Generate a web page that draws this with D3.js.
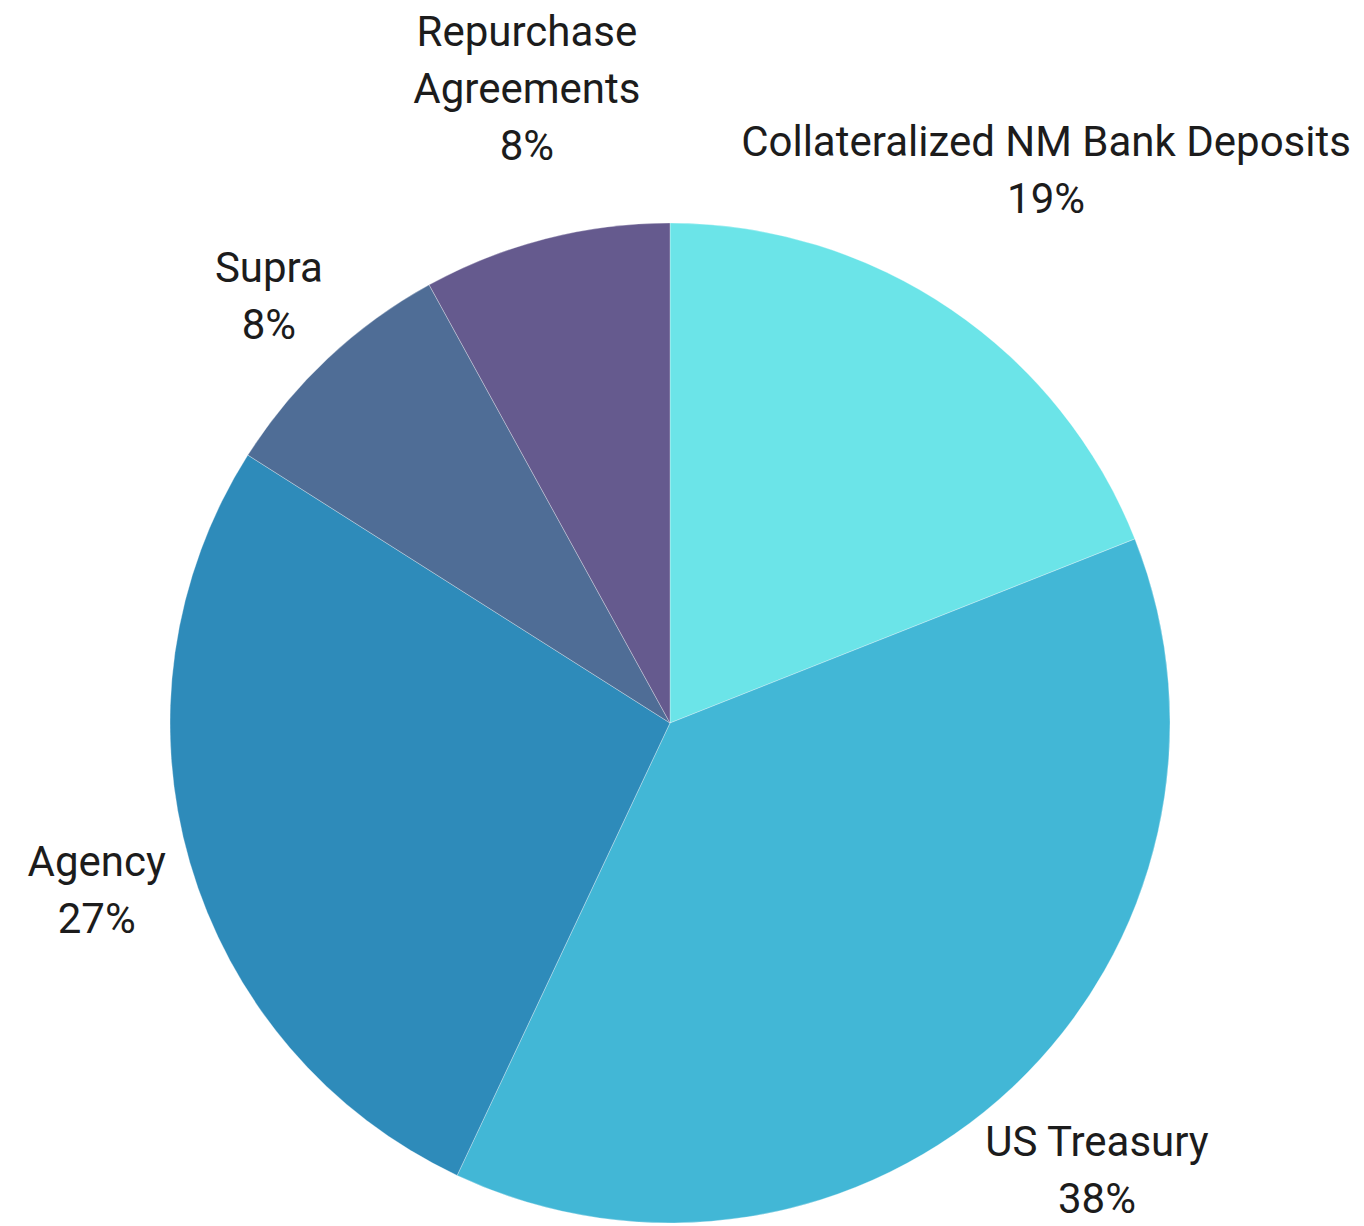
<!DOCTYPE html>
<html>
<head>
<meta charset="utf-8">
<script src="https://cdn.jsdelivr.net/npm/d3@7"></script>
<style>
html,body{margin:0;padding:0;background:#fff;}
svg{display:block;}
</style>
</head>
<body>
<svg id="chart" width="1364" height="1226"></svg>
<script>
// ---- data ----
const categories = ["Collateralized NM Bank Deposits", "US Treasury", "Agency", "Supra", "Repurchase Agreements"];
const labelLines = [["Collateralized NM Bank Deposits"], ["US Treasury"], ["Agency"], ["Supra"], ["Repurchase", "Agreements"]];
const values = [19, 38, 27, 8, 8];
const colors = ["#6BE4E8", "#42B7D6", "#2E8BBA", "#4F6D96", "#655A8E"];

// ---- layout config ----
const cx = 670, cy = 723, R = 500;
const labelDistance = [669, 618, 597, 586, 651];   // label block centre distance from pie centre
const labelAngleNudge = [0, -0.5, 0, 0, 1.7];       // degrees
const fontSize = 42, lineH = 57, capH = 30;

const svg = d3.select("#chart");
const pie = d3.pie().sort(null).value(d => d)(values);
const arc = d3.arc().innerRadius(0).outerRadius(R);

const g = svg.append("g").attr("transform", `translate(${cx},${cy})`);
g.selectAll("path").data(pie).join("path")
  .attr("d", arc)
  .attr("fill", (d, i) => colors[i])
  .attr("stroke", "#ffffff")
  .attr("stroke-opacity", 0.5)
  .attr("stroke-width", 0.6);

g.selectAll("text.lbl").data(pie).join("text")
  .attr("class", "lbl")
  .attr("text-anchor", "middle")
  .attr("font-family", "Roboto, 'Noto Sans', sans-serif")
  .attr("font-size", fontSize)
  .attr("fill", "#1c1c1c")
  .each(function(d, i) {
    const lines = labelLines[i].concat([values[i] + "%"]);
    const a = (d.startAngle + d.endAngle) / 2 + labelAngleNudge[i] * Math.PI / 180;
    const D = labelDistance[i];
    const mx = Math.sin(a) * D, my = -Math.cos(a) * D;
    const blockH = capH + (lines.length - 1) * lineH;
    const firstBaseline = my - blockH / 2 + capH;
    const t = d3.select(this);
    lines.forEach((ln, k) => {
      t.append("tspan").attr("x", mx).attr("y", firstBaseline + k * lineH).text(ln);
    });
  });
</script>
</body>
</html>
